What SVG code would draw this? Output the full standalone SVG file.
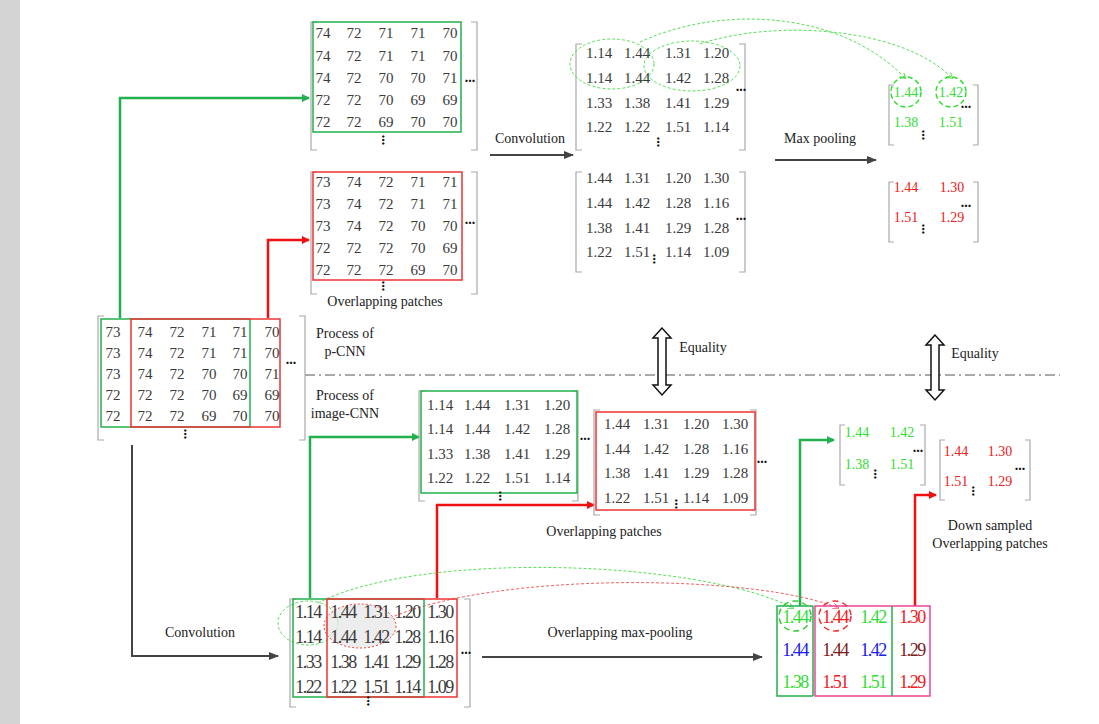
<svg xmlns="http://www.w3.org/2000/svg" width="1099" height="724" viewBox="0 0 1099 724" font-family="'Liberation Serif', 'DejaVu Serif', serif">
<defs>
<marker id="ag" markerWidth="8" markerHeight="8" refX="7" refY="4" orient="auto" markerUnits="userSpaceOnUse"><path d="M0,0 L8,4 L0,8z" fill="#22b14c"/></marker>
<marker id="ar" markerWidth="8" markerHeight="8" refX="7" refY="4" orient="auto" markerUnits="userSpaceOnUse"><path d="M0,0 L8,4 L0,8z" fill="#f01010"/></marker>
<marker id="ak" markerWidth="10" markerHeight="8" refX="9" refY="4" orient="auto" markerUnits="userSpaceOnUse"><path d="M0,0 L10,4 L0,8z" fill="#444"/></marker>
<marker id="agd" markerWidth="6" markerHeight="6" refX="5" refY="3" orient="auto" markerUnits="userSpaceOnUse"><path d="M0,0 L6,3 L0,6" fill="none" stroke="#55e055"/></marker>
<marker id="ard" markerWidth="6" markerHeight="6" refX="5" refY="3" orient="auto" markerUnits="userSpaceOnUse"><path d="M0,0 L6,3 L0,6" fill="none" stroke="#f06060"/></marker>
</defs>
<style>
text{font-family:'Liberation Serif','DejaVu Serif',serif;font-size:14px;fill:#3a3a3a;text-anchor:middle}
.v text{font-size:15px}
text.lb{font-size:14px;fill:#222}
text.g{fill:#33dd33}text.r{fill:#f02020}text.b{fill:#2020ee}text.d{fill:#7a2020}
.br{fill:none;stroke:#aaa;stroke-width:1.2}
.bg{fill:none;stroke:#22b14c;stroke-width:1.5}
.bx{fill:none;stroke:#ee3333;stroke-width:1.5}
text.dot{font-size:14px;font-weight:bold;fill:#111}
.big text{font-size:18px;letter-spacing:-1.5px}
</style>
<rect x="0" y="0" width="1099" height="724" fill="#fff"/>
<rect x="0" y="0" width="20" height="724" fill="#d4d4d4"/>

<g id="connectors" fill="none">
<polyline points="120,318 120,98 309,98" stroke="#22b14c" stroke-width="2.5" marker-end="url(#ag)"/>
<polyline points="268,318 268,240 309,240" stroke="#f01010" stroke-width="2.5" marker-end="url(#ar)"/>
<line x1="490" y1="155" x2="573" y2="155" stroke="#444" stroke-width="2" marker-end="url(#ak)"/>
<line x1="775" y1="160" x2="876" y2="160" stroke="#444" stroke-width="2" marker-end="url(#ak)"/>
<polyline points="310,598 310,437 419,437" stroke="#22b14c" stroke-width="2.5" marker-end="url(#ag)"/>
<polyline points="437,598 437,505 594,505" stroke="#f01010" stroke-width="2.5" marker-end="url(#ar)"/>
<polyline points="132,445 132,656 278,656" stroke="#444" stroke-width="2" marker-end="url(#ak)"/>
<line x1="482" y1="657" x2="762" y2="657" stroke="#444" stroke-width="2" marker-end="url(#ak)"/>
<polyline points="800,606 800,440 834,440" stroke="#22b14c" stroke-width="2.5" marker-end="url(#ag)"/>
<polyline points="915,606 915,495 936,495" stroke="#f01010" stroke-width="2.5" marker-end="url(#ar)"/>
<line x1="305" y1="375" x2="1060" y2="375" stroke="#555" stroke-width="1" stroke-dasharray="10,4,2,4"/>
<path d="M640,42 C720,5 840,10 905,78" stroke="#55e055" stroke-dasharray="3,2" marker-end="url(#agd)"/>
<path d="M700,44 C770,20 900,25 952,78" stroke="#55e055" stroke-dasharray="3,2" marker-end="url(#agd)"/>
<path d="M318,603 C420,550 700,560 793,608" stroke="#55e055" stroke-dasharray="3,2" marker-end="url(#agd)"/>
<path d="M390,618 C500,570 760,575 838,608" stroke="#f06060" stroke-dasharray="3,2" marker-end="url(#ard)"/>
<path d="M662,328 l-9,10 h5 v47 h-5 l9,10 l9,-10 h-5 v-47 h5z" fill="#fff" stroke="#111" stroke-width="1.5"/>
<path d="M935,335 l-9,10 h5 v45 h-5 l9,10 l9,-10 h-5 v-45 h5z" fill="#fff" stroke="#111" stroke-width="1.5"/>
</g>
<text class="lb" x="703" y="352">Equality</text>
<text class="lb" x="975" y="358">Equality</text>
<text class="lb" x="530" y="143">Convolution</text>
<text class="lb" x="820" y="143">Max pooling</text>
<text class="lb" x="200" y="637">Convolution</text>
<text class="lb" x="620" y="637">Overlapping max-pooling</text>
<text class="lb" x="345" y="338">Process of</text><text class="lb" x="345" y="356">p-CNN</text>
<text class="lb" x="345" y="400">Process of</text><text class="lb" x="345" y="418">image-CNN</text>

<g id="input">
<path class="br" d="M104,316 h-6 v124 h6 M299,316 h6 v124 h-6"/>
<rect class="bg" x="101" y="319" width="149" height="108"/>
<rect class="bx" x="131" y="319" width="149" height="108"/>
<g class="v">
<text x="113" y="337">73</text><text x="145" y="337">74</text><text x="177" y="337">72</text><text x="209" y="337">71</text><text x="240" y="337">71</text><text x="272" y="337">70</text>
<text x="113" y="358">73</text><text x="145" y="358">74</text><text x="177" y="358">72</text><text x="209" y="358">71</text><text x="240" y="358">71</text><text x="272" y="358">70</text>
<text x="113" y="379">73</text><text x="145" y="379">74</text><text x="177" y="379">72</text><text x="209" y="379">70</text><text x="240" y="379">70</text><text x="272" y="379">71</text>
<text x="113" y="400">72</text><text x="145" y="400">72</text><text x="177" y="400">72</text><text x="209" y="400">70</text><text x="240" y="400">69</text><text x="272" y="400">69</text>
<text x="113" y="421">72</text><text x="145" y="421">72</text><text x="177" y="421">72</text><text x="209" y="421">69</text><text x="240" y="421">70</text><text x="272" y="421">70</text>
</g>
<text class="dot" x="291" y="364">...</text>
<text class="dot" x="187" y="437" transform="rotate(90 187 434)">...</text>
</g>

<g id="patch-green">
<path class="br" d="M317,22 h-6 v128 h6 M471,22 h6 v128 h-6"/>
<rect class="bg" x="313" y="22" width="148" height="110"/>
<g class="v">
<text x="323" y="38">74</text><text x="354" y="38">72</text><text x="386" y="38">71</text><text x="418" y="38">71</text><text x="450" y="38">70</text>
<text x="323" y="61">74</text><text x="354" y="61">72</text><text x="386" y="61">71</text><text x="418" y="61">71</text><text x="450" y="61">70</text>
<text x="323" y="83">74</text><text x="354" y="83">72</text><text x="386" y="83">70</text><text x="418" y="83">70</text><text x="450" y="83">71</text>
<text x="323" y="105">72</text><text x="354" y="105">72</text><text x="386" y="105">70</text><text x="418" y="105">69</text><text x="450" y="105">69</text>
<text x="323" y="127">72</text><text x="354" y="127">72</text><text x="386" y="127">69</text><text x="418" y="127">70</text><text x="450" y="127">70</text>
</g>
<text class="dot" x="470" y="82">...</text>
<text class="dot" x="385" y="143" transform="rotate(90 385 140)">...</text>
</g>

<g id="patch-red">
<path class="br" d="M317,172 h-6 v122 h6 M471,172 h6 v122 h-6"/>
<rect class="bx" x="313" y="172" width="149" height="108"/>
<g class="v">
<text x="323" y="187">73</text><text x="354" y="187">74</text><text x="386" y="187">72</text><text x="418" y="187">71</text><text x="450" y="187">71</text>
<text x="323" y="209">73</text><text x="354" y="209">74</text><text x="386" y="209">72</text><text x="418" y="209">71</text><text x="450" y="209">71</text>
<text x="323" y="231">73</text><text x="354" y="231">74</text><text x="386" y="231">72</text><text x="418" y="231">70</text><text x="450" y="231">70</text>
<text x="323" y="253">72</text><text x="354" y="253">72</text><text x="386" y="253">72</text><text x="418" y="253">70</text><text x="450" y="253">69</text>
<text x="323" y="275">72</text><text x="354" y="275">72</text><text x="386" y="275">72</text><text x="418" y="275">69</text><text x="450" y="275">70</text>
</g>
<text class="dot" x="470" y="224">...</text>
<text class="dot" x="385" y="289" transform="rotate(90 385 286)">...</text>
<text class="lb" x="385" y="306">Overlapping patches</text>
</g>

<g id="conv-top">
<path class="br" d="M582,44 h-6 v106 h6 M739,44 h6 v106 h-6"/>
<ellipse cx="612" cy="64" rx="42" ry="25" fill="none" stroke="#55e055" stroke-dasharray="3,2"/>
<ellipse cx="692" cy="66" rx="48" ry="25" fill="none" stroke="#55e055" stroke-dasharray="3,2"/>
<g class="v">
<text x="599" y="58">1.14</text><text x="637" y="58">1.44</text><text x="678" y="58">1.31</text><text x="716" y="58">1.20</text>
<text x="599" y="83">1.14</text><text x="637" y="83">1.44</text><text x="678" y="83">1.42</text><text x="716" y="83">1.28</text>
<text x="599" y="108">1.33</text><text x="637" y="108">1.38</text><text x="678" y="108">1.41</text><text x="716" y="108">1.29</text>
<text x="599" y="132">1.22</text><text x="637" y="132">1.22</text><text x="678" y="132">1.51</text><text x="716" y="132">1.14</text>
</g>
<text class="dot" x="741" y="91">...</text>
<text class="dot" x="660" y="145" transform="rotate(90 660 142)">...</text>
</g>

<g id="conv-bottom">
<path class="br" d="M582,172 h-6 v100 h6 M739,172 h6 v100 h-6"/>
<g class="v">
<text x="599" y="183">1.44</text><text x="637" y="183">1.31</text><text x="678" y="183">1.20</text><text x="716" y="183">1.30</text>
<text x="599" y="208">1.44</text><text x="637" y="208">1.42</text><text x="678" y="208">1.28</text><text x="716" y="208">1.16</text>
<text x="599" y="233">1.38</text><text x="637" y="233">1.41</text><text x="678" y="233">1.29</text><text x="716" y="233">1.28</text>
<text x="599" y="257">1.22</text><text x="637" y="257">1.51</text><text x="678" y="257">1.14</text><text x="716" y="257">1.09</text>
</g>
<text class="dot" x="741" y="220">...</text>
<text class="dot" x="656" y="262" transform="rotate(90 656 259)">...</text>
</g>

<g id="pool-green">
<path class="br" d="M894,85 h-5 v60 h5 M973,85 h5 v60 h-5"/>
<circle cx="906" cy="92" r="15" fill="none" stroke="#33dd33" stroke-width="1.5" stroke-dasharray="5,3"/>
<circle cx="951" cy="92" r="15" fill="none" stroke="#33dd33" stroke-width="1.5" stroke-dasharray="5,3"/>
<text class="g" x="906" y="97">1.44</text><text class="g" x="951" y="97">1.42</text>
<text class="g" x="906" y="127">1.38</text><text class="g" x="951" y="127">1.51</text>
<text class="dot" x="966" y="108">...</text>
<text class="dot" x="925" y="138" transform="rotate(90 925 135)">...</text>
</g>

<g id="pool-red">
<path class="br" d="M894,182 h-5 v60 h5 M973,182 h5 v60 h-5"/>
<text class="r" x="906" y="192">1.44</text><text class="r" x="952" y="192">1.30</text>
<text class="r" x="906" y="222">1.51</text><text class="r" x="952" y="222">1.29</text>
<text class="dot" x="966" y="207">...</text>
<text class="dot" x="925" y="232" transform="rotate(90 925 229)">...</text>
</g>

<g id="mid-green">
<path class="br" d="M425,391 h-6 v110 h6 M572,391 h6 v110 h-6"/>
<rect class="bg" x="421" y="391" width="156" height="102"/>
<g class="v">
<text x="440" y="410">1.14</text><text x="477" y="410">1.44</text><text x="517" y="410">1.31</text><text x="557" y="410">1.20</text>
<text x="440" y="434">1.14</text><text x="477" y="434">1.44</text><text x="517" y="434">1.42</text><text x="557" y="434">1.28</text>
<text x="440" y="459">1.33</text><text x="477" y="459">1.38</text><text x="517" y="459">1.41</text><text x="557" y="459">1.29</text>
<text x="440" y="483">1.22</text><text x="477" y="483">1.22</text><text x="517" y="483">1.51</text><text x="557" y="483">1.14</text>
</g>
<text class="dot" x="585" y="440">...</text>
<text class="dot" x="502" y="499" transform="rotate(90 502 496)">...</text>
</g>

<g id="mid-red">
<path class="br" d="M600,410 h-6 v105 h6 M750,410 h6 v105 h-6"/>
<rect class="bx" x="596" y="412" width="159" height="98"/>
<g class="v">
<text x="617" y="429">1.44</text><text x="656" y="429">1.31</text><text x="696" y="429">1.20</text><text x="735" y="429">1.30</text>
<text x="617" y="454">1.44</text><text x="656" y="454">1.42</text><text x="696" y="454">1.28</text><text x="735" y="454">1.16</text>
<text x="617" y="478">1.38</text><text x="656" y="478">1.41</text><text x="696" y="478">1.29</text><text x="735" y="478">1.28</text>
<text x="617" y="503">1.22</text><text x="656" y="503">1.51</text><text x="696" y="503">1.14</text><text x="735" y="503">1.09</text>
</g>
<text class="dot" x="762" y="463">...</text>
<text class="dot" x="678" y="507" transform="rotate(90 678 504)">...</text>
<text class="lb" x="604" y="536">Overlapping patches</text>
</g>

<g id="down-green">
<path class="br" d="M845,425 h-5 v60 h5 M920,425 h5 v60 h-5"/>
<text class="g" x="857" y="437">1.44</text><text class="g" x="902" y="437">1.42</text>
<text class="g" x="857" y="469">1.38</text><text class="g" x="902" y="469">1.51</text>
<text class="dot" x="918" y="452">...</text>
<text class="dot" x="877" y="477" transform="rotate(90 877 474)">...</text>
</g>
<g id="down-red">
<path class="br" d="M945,440 h-5 v60 h5 M1025,440 h5 v60 h-5"/>
<text class="r" x="956" y="456">1.44</text><text class="r" x="1000" y="456">1.30</text>
<text class="r" x="956" y="486">1.51</text><text class="r" x="1000" y="486">1.29</text>
<text class="dot" x="1020" y="470">...</text>
<text class="dot" x="975" y="494" transform="rotate(90 975 491)">...</text>
<text class="lb" x="990" y="530">Down sampled</text>
<text class="lb" x="990" y="548">Overlapping patches</text>
</g>

<g id="conv-image">
<path class="br" d="M296,599 h-6 v108 h6 M464,599 h6 v108 h-6"/>
<ellipse cx="308" cy="623" rx="30" ry="22" fill="none" stroke="#55e055" stroke-dasharray="3,2"/>
<ellipse cx="360" cy="626" rx="36" ry="22" fill="#e6e6e6" fill-opacity="0.7" stroke="#f04040" stroke-dasharray="2,2"/>
<rect class="bg" x="293" y="599" width="131" height="98"/>
<rect class="bx" x="327" y="599" width="130" height="98"/>
<g class="big">
<text x="308" y="618">1.14</text><text x="343" y="618">1.44</text><text x="376" y="618">1.31</text><text x="407" y="618">1.20</text><text x="440" y="618">1.30</text>
<text x="308" y="643">1.14</text><text x="343" y="643">1.44</text><text x="376" y="643">1.42</text><text x="407" y="643">1.28</text><text x="440" y="643">1.16</text>
<text x="308" y="668">1.33</text><text x="343" y="668">1.38</text><text x="376" y="668">1.41</text><text x="407" y="668">1.29</text><text x="440" y="668">1.28</text>
<text x="308" y="693">1.22</text><text x="343" y="693">1.22</text><text x="376" y="693">1.51</text><text x="407" y="693">1.14</text><text x="440" y="693">1.09</text>
</g>
<text class="dot" x="466" y="654">...</text>
<text class="dot" x="370" y="704" transform="rotate(90 370 701)">...</text>
</g>

<g id="overlap-pool">
<rect x="815" y="606" width="115" height="90" fill="none" stroke="#ee4499" stroke-width="1.5"/>
<polyline points="813,606 777,606 777,696 813,696" fill="none" stroke="#22b14c" stroke-width="1.5"/>
<line x1="813" y1="606" x2="813" y2="696" stroke="#22b14c" stroke-width="1.5"/>
<line x1="892" y1="606" x2="892" y2="696" stroke="#22b14c" stroke-width="1.5"/>
<ellipse cx="795" cy="616" rx="16" ry="15" fill="none" stroke="#33cc33" stroke-width="1.5" stroke-dasharray="6,4"/>
<ellipse cx="835" cy="616" rx="16" ry="15" fill="none" stroke="#ee3333" stroke-width="1.5" stroke-dasharray="6,4"/>
<g class="big">
<text class="g" x="795" y="623">1.44</text><text class="r" x="835" y="623">1.44</text><text class="g" x="873" y="623">1.42</text><text class="r" x="912" y="623">1.30</text>
<text class="b" x="795" y="656">1.44</text><text class="d" x="835" y="656">1.44</text><text class="b" x="873" y="656">1.42</text><text class="d" x="912" y="656">1.29</text>
<text class="g" x="795" y="688">1.38</text><text class="r" x="835" y="688">1.51</text><text class="g" x="873" y="688">1.51</text><text class="r" x="912" y="688">1.29</text>
</g>
</g>
</svg>
